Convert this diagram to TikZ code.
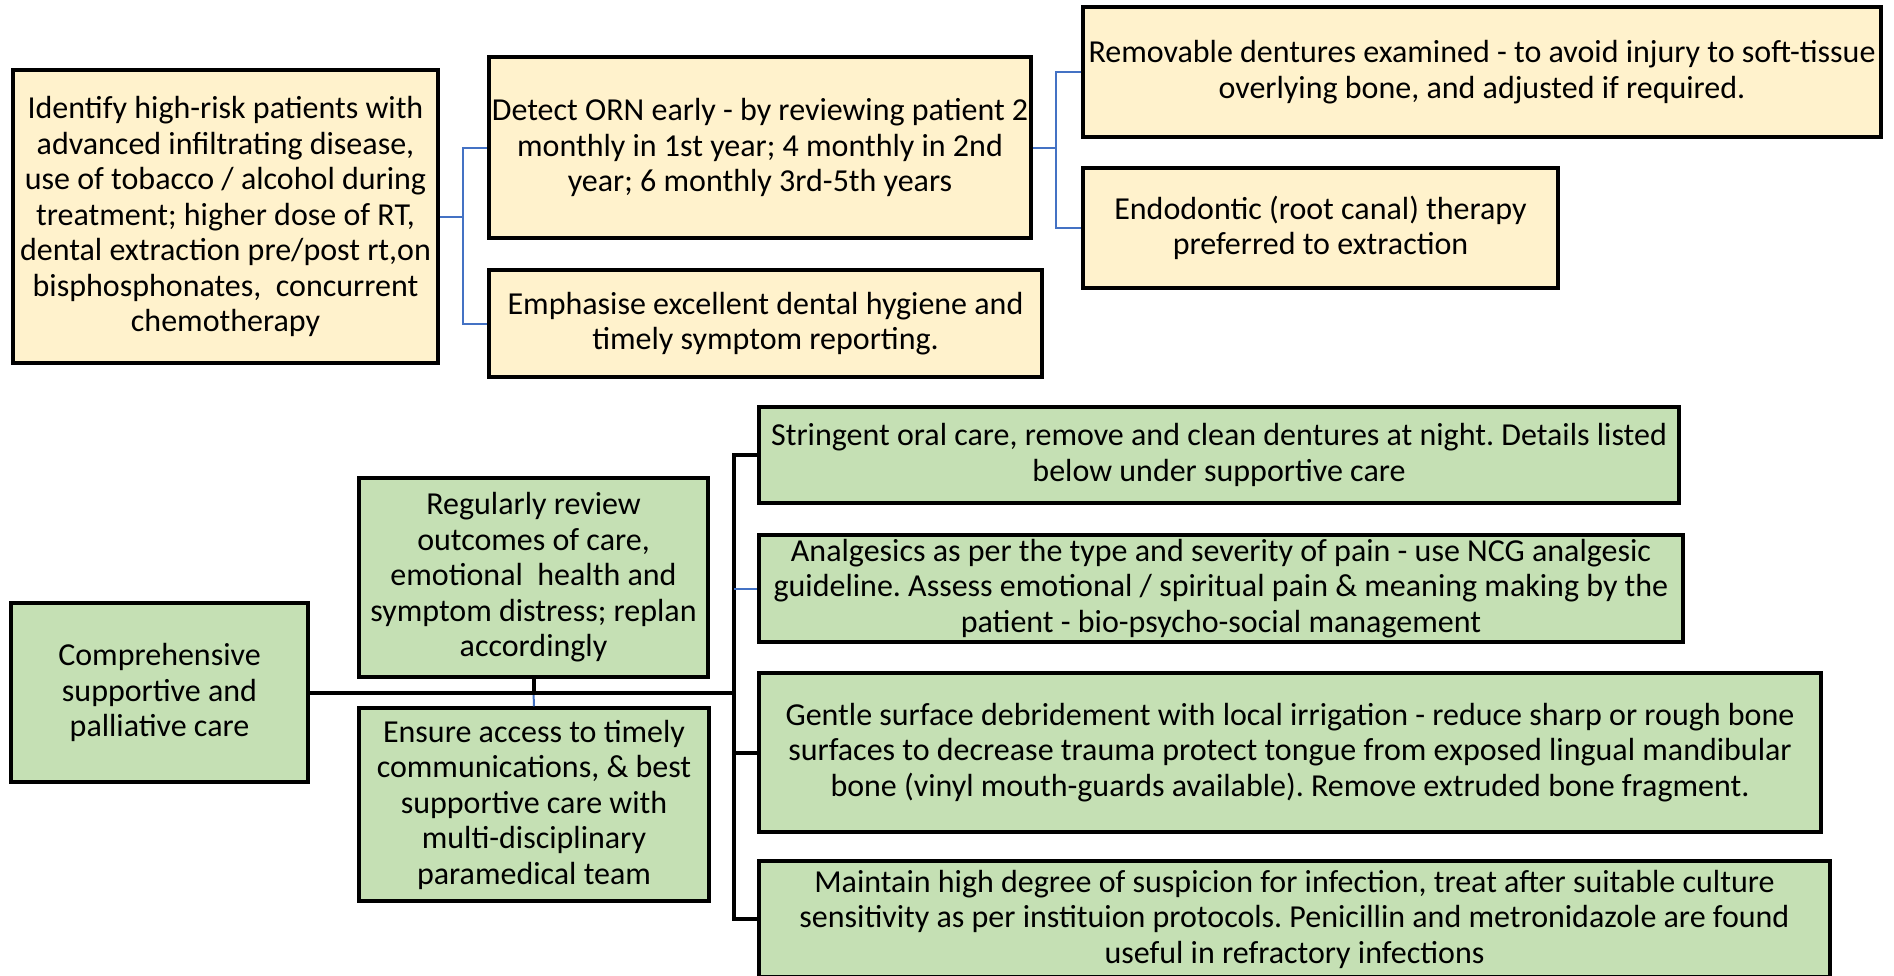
\documentclass[tikz,border=0pt]{standalone}
\usepackage{fontspec}
\setmainfont{Carlito}
\frenchspacing
\definecolor{boxyellow}{HTML}{FFF2CC}
\definecolor{boxgreen}{HTML}{C5E0B4}
\definecolor{linkblue}{HTML}{4472C4}
\tikzset{
  card/.style={draw=black, line width=3.5pt, inner sep=0pt, align=center,
    font=\fontsize{32}{35.5}\selectfont\frenchspacing},
  yellowcard/.style={card, fill=boxyellow},
  greencard/.style={card, fill=boxgreen},
  bluelink/.style={draw=linkblue, line width=2pt},
  blacklink/.style={draw=black, line width=4pt}
}
\begin{document}
\begin{tikzpicture}[x=1pt,y=-1pt]
\clip (0,0) rectangle (1894,975);
\fill[white] (0,0) rectangle (1894,975);
% top section
\node[yellowcard, minimum width=425pt, minimum height=293pt] (A) at (225.5,216.5)
  {Identify high-risk patients with\\advanced infiltrating disease,\\use of tobacco / alcohol during\\treatment; higher dose of RT,\\dental extraction pre/post rt,on\\bisphosphonates,~ concurrent\\chemotherapy};
\node[yellowcard, minimum width=542pt, minimum height=181pt] (B) at (760,147.5)
  {Detect ORN early - by reviewing patient 2\\monthly in 1st year; 4 monthly in 2nd\\year; 6 monthly 3rd-5th years};
\node[yellowcard, minimum width=553pt, minimum height=107pt] (C) at (765.5,323.5)
  {Emphasise excellent dental hygiene and\\timely symptom reporting.};
\node[yellowcard, minimum width=798pt, minimum height=130pt] (D) at (1482,72)
  {Removable dentures examined - to avoid injury to soft-tissue\\overlying bone, and adjusted if required.};
\node[yellowcard, minimum width=475pt, minimum height=120pt] (E) at (1320.5,228)
  {Endodontic (root canal) therapy\\preferred to extraction};
% bottom section
\node[greencard, minimum width=297pt, minimum height=179pt] (F) at (159.5,692.5)
  {Comprehensive\\supportive and\\palliative care};
\node[greencard, minimum width=349pt, minimum height=199pt] (G) at (533.5,577.5)
  {Regularly review\\outcomes of care,\\emotional~ health and\\symptom distress; replan\\accordingly};
\node[greencard, minimum width=350pt, minimum height=193pt] (H) at (534,804.5)
  {Ensure access to timely\\communications, \& best\\supportive care with\\multi-disciplinary\\paramedical team};
\node[greencard, minimum width=920pt, minimum height=96pt] (I) at (1219,455)
  {Stringent oral care, remove and clean dentures at night. Details listed\\below under supportive care};
\node[greencard, minimum width=924pt, minimum height=107pt] (J) at (1221,588.5)
  {Analgesics as per the type and severity of pain - use NCG analgesic\\guideline. Assess emotional / spiritual pain \& meaning making by the\\patient - bio-psycho-social management};
\node[greencard, minimum width=1062pt, minimum height=159pt] (K) at (1290,752.5)
  {Gentle surface debridement with local irrigation - reduce sharp or rough bone\\surfaces to decrease trauma protect tongue from exposed lingual mandibular\\bone (vinyl mouth-guards available). Remove extruded bone fragment.};
\node[greencard, minimum width=1071pt, minimum height=116pt] (L) at (1294.5,919)
  {Maintain high degree of suspicion for infection, treat after suitable culture\\sensitivity as per instituion protocols. Penicillin and metronidazole are found\\useful in refractory infections};
% top connectors
\coordinate (j1) at (463,216.5);
\coordinate (j2) at (1056,147.5);
\draw[bluelink] (A.east) -- (j1) |- (B.west);
\draw[bluelink] (j1) |- (C.west);
\draw[bluelink] (B.east) -- (j2) |- (D.west);
\draw[bluelink] (j2) |- (E.west);
% bottom connectors
\coordinate (trunk) at (734,692.5);
\coordinate (gh) at (533.5,692.5);
\coordinate (vtop) at (734,455);
\coordinate (vbot) at (734,919);
\draw[bluelink] (gh) -- (H.north);
\draw[blacklink] (G.south) -- (gh);
\draw[blacklink] (F.east) -- (trunk);
\draw[blacklink, line cap=rect] (vtop) -- (vbot);
\draw[blacklink] (vtop) -- (I.west);
\draw[bluelink] (734,588.5) -- (J.west);
\draw[blacklink] (734,752.5) -- (K.west);
\draw[blacklink] (vbot) -- (L.west);
\end{tikzpicture}
\end{document}
